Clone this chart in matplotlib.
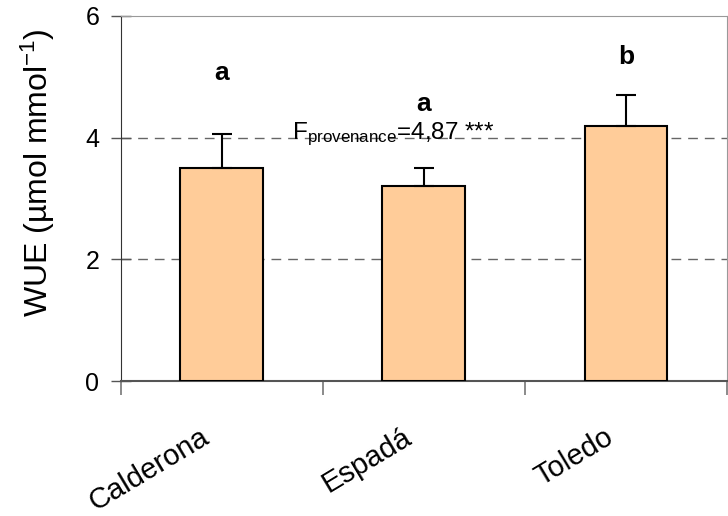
import matplotlib
matplotlib.use("Agg")
import matplotlib.pyplot as plt
import matplotlib.transforms as mtransforms
import numpy as np

plt.rcParams['font.family'] = ['Liberation Sans', 'DejaVu Sans']
plt.rcParams['mathtext.fontset'] = 'custom'
plt.rcParams['mathtext.rm'] = 'Liberation Sans'
plt.rcParams['mathtext.it'] = 'Liberation Sans'
plt.rcParams['mathtext.default'] = 'regular'

provenances = ['Calderona', 'Espadá', 'Toledo']
wue = [3.5, 3.2, 4.2]
wue_err = [0.56, 0.3, 0.5]
letters = ['a', 'a', 'b']
letter_y = [5.07, 4.56, 5.33]
f_label = 'F$_{provenance}$=4,87 ***'

fig = plt.figure(figsize=(7.28, 5.16), dpi=100)
ax = fig.add_axes([0.1658, 0.2616, 0.8328, 0.7074])

x = np.arange(len(provenances))
ax.bar(x, wue, width=0.41, color='#FFCC99', edgecolor='black', linewidth=1.5, zorder=3)
ax.errorbar(x, wue, yerr=[np.zeros(len(wue)), wue_err], fmt='none', ecolor='black',
            elinewidth=1.5, capsize=7, capthick=1.5, zorder=4)

for xi, lt, ly in zip(x, letters, letter_y):
    ax.text(xi, ly, lt, ha='center', va='center', fontsize=19, fontweight='bold')

ax.text(0.35, 4.05, f_label, ha='left', va='center', fontsize=17.5, zorder=5)

ax.set_xlim(-0.5, 2.5)
ax.set_ylim(0, 6)
ax.set_yticks([0, 2, 4, 6])
ax.set_yticklabels(['0', '2', '4', '6'], fontsize=18)
for yv in [2, 4]:
    ax.axhline(yv, color='#666666', linestyle=(0, (7, 5)), linewidth=1, zorder=1)

# tick marks on the category boundaries, names drawn under each bar
ax.set_xticks(np.arange(-0.5, len(provenances), 1.0))
ax.set_xticklabels([])
ax.tick_params(axis='x', direction='out', length=10, width=1.2, color='#777777')
ax.tick_params(axis='y', direction='inout', length=15, width=1, color='#555555', pad=8)

name_tr = mtransforms.blended_transform_factory(ax.transData, ax.transAxes)
for xi, name in zip(x, provenances):
    ax.text(xi - 0.11, -0.115, name, transform=name_tr, rotation=31,
            rotation_mode='anchor', ha='right', va='top', fontsize=21)

ax.set_ylabel('WUE (µmol mmol$^{-1}$)', fontsize=23, va='bottom')
ax.yaxis.set_label_coords(-0.105, 0.57)

ax.spines['left'].set_color('#333333')
ax.spines['bottom'].set_color('#555555')
ax.spines['bottom'].set_linewidth(1.5)
ax.spines['top'].set_color('#999999')
ax.spines['right'].set_color('#999999')

fig.savefig('out.png', dpi=100)
